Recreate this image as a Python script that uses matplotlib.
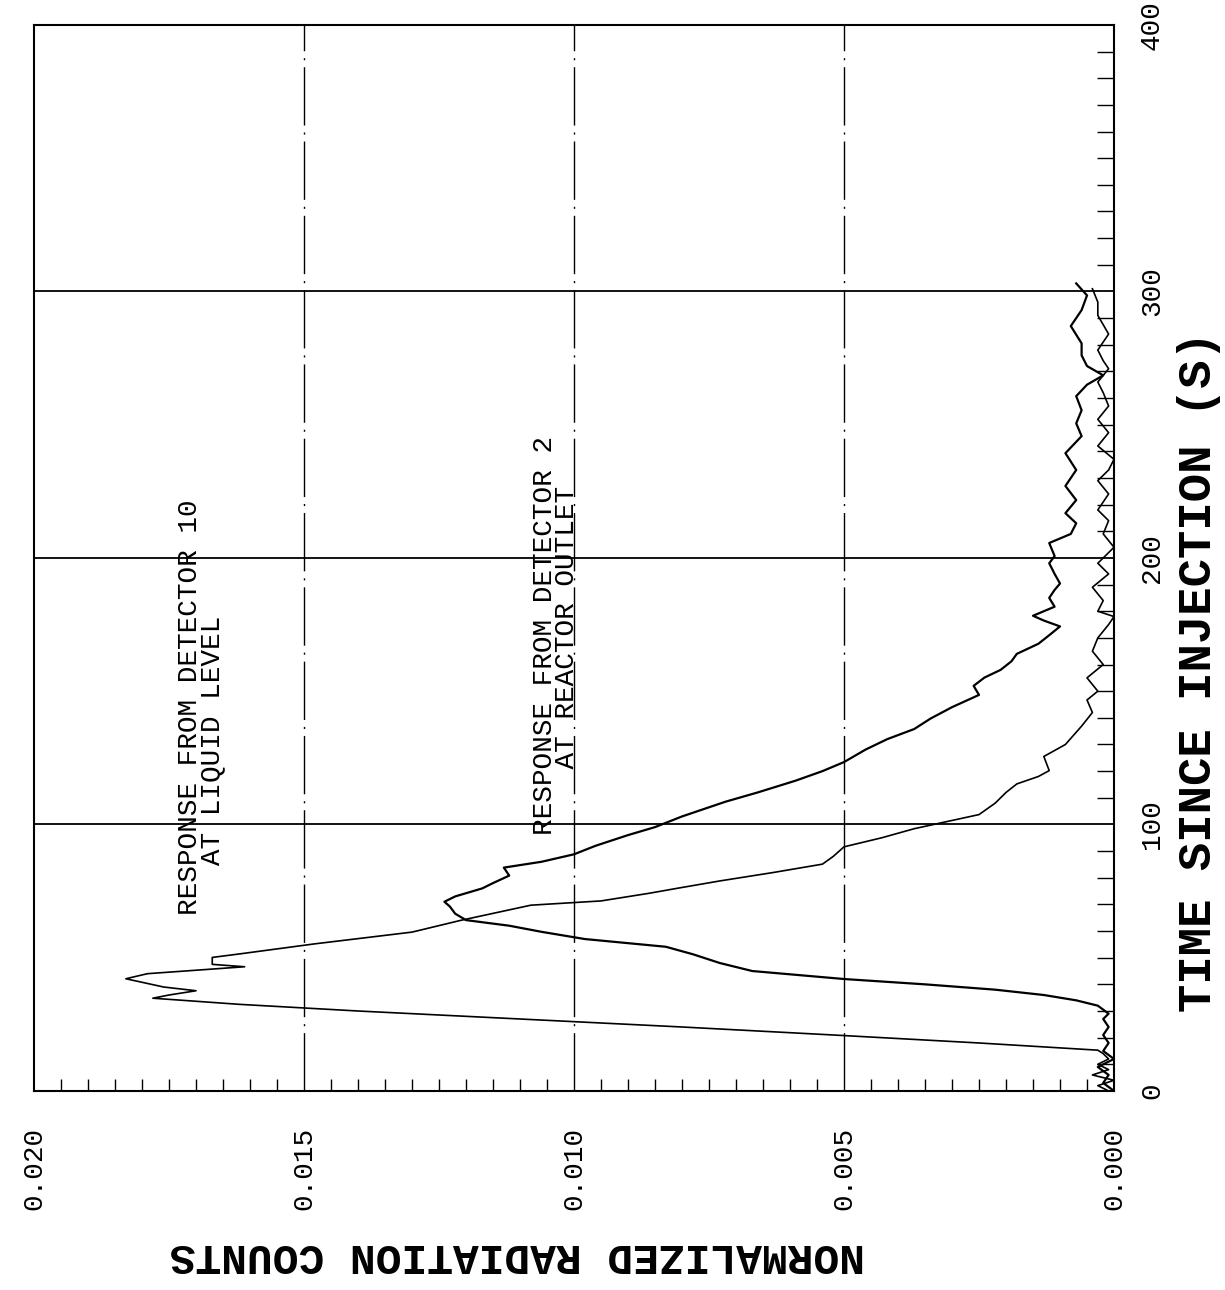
import matplotlib
matplotlib.use('Agg')
import matplotlib.pyplot as plt
from matplotlib.ticker import MultipleLocator, FixedLocator

# ---------------- data ----------------
det10_time = [0, 2, 4, 6, 8, 10, 12, 14, 15.3, 18, 21, 24, 27, 30, 32.5, 34.8,
              36, 37.6, 39, 42.1, 44, 46.6, 47.5, 50.1, 51.4, 55.2, 59.6, 64, 69.7, 71.3, 74.2, 76,
              78.8, 82, 85.1, 88, 91.6, 95, 98.4, 103.7, 108, 112, 115.2, 118, 120.2, 125.5, 130, 136.9,
              142, 146.7, 150, 155, 160, 165, 170, 175, 178, 180, 184, 189, 194, 198, 204, 209,
              214, 218, 224, 229, 233, 237, 242, 247, 252, 257, 262, 266, 271, 274, 278, 284,
              291, 296, 301]
det10_counts = [0.0001, 0.0003, 0.0000, 0.0004, 0.0001, 0.0003, 0.0001, 0.0002,
                0.0003, 0.0025, 0.0052, 0.0080, 0.0110, 0.0140, 0.0162, 0.0178,
                0.0175, 0.0170, 0.0176, 0.0183, 0.0179, 0.0161, 0.0167, 0.0167,
                0.0162, 0.0148, 0.0130, 0.0121, 0.0108, 0.0095, 0.0086, 0.0081,
                0.0073, 0.0063, 0.0054, 0.0052, 0.0050, 0.0043, 0.0037, 0.0025,
                0.0022, 0.0020, 0.0018, 0.0014, 0.0012, 0.0013, 0.0009, 0.0006,
                0.0004, 0.0005, 0.0003, 0.0005, 0.0002, 0.0004, 0.0003, 0.0001,
                0.0000, 0.0003, 0.0002, 0.0004, 0.0001, 0.0003, 0.0000, 0.0002,
                0.0001, 0.0003, 0.0001, 0.0003, 0.0001, 0.0000, 0.0003, 0.0001,
                0.0003, 0.0001, 0.0002, 0.0003, 0.0001, 0.0002, 0.0003, 0.0001,
                0.0003, 0.0003, 0.0004]

det2_time = [0, 3, 6, 9, 12, 15, 18, 21, 24, 27, 29, 32, 34, 36, 38, 40,
             42, 45, 48, 51.3, 54.1, 57, 59.7, 62, 64.1, 66.5, 69.2, 71, 73, 76, 78, 80.8,
             83.8, 86, 88.8, 92, 96, 99, 103, 108.5, 112, 116.4, 120, 123.4, 128.1, 132, 135.8, 139.7,
             144, 148.6, 152, 155.1, 158, 161.2, 164, 167.8, 171, 174.3, 176.5, 178.3, 181.7, 185, 188, 190.4,
             194, 198, 200.7, 205.6, 209, 213, 216.8, 221.7, 227, 233, 239.3, 245.7, 250.5, 255.4, 260.7, 265,
             268.5, 272, 276, 280.5, 287, 293, 298.5, 303]
det2_counts = [0.0000, 0.0002, 0.0001, 0.0003, 0.0000, 0.0002, 0.0001, 0.0002,
               0.0001, 0.0002, 0.0001, 0.0003, 0.0007, 0.0013, 0.0022, 0.0035,
               0.0050, 0.0067, 0.0073, 0.0078, 0.0083, 0.0098, 0.0106, 0.0112,
               0.0120, 0.0122, 0.0123, 0.0124, 0.0122, 0.0117, 0.0115, 0.0112,
               0.0113, 0.0106, 0.0100, 0.0096, 0.0090, 0.0085, 0.0080, 0.0072,
               0.0066, 0.0059, 0.0054, 0.0050, 0.0046, 0.0042, 0.0037, 0.0034,
               0.0030, 0.0025, 0.0026, 0.0024, 0.0021, 0.0019, 0.0018, 0.0014,
               0.0012, 0.0010, 0.0013, 0.0015, 0.0011, 0.0012, 0.0011, 0.0010,
               0.0011, 0.0012, 0.0011, 0.0012, 0.0008, 0.0007, 0.0009, 0.0007,
               0.0009, 0.0007, 0.0009, 0.0006, 0.0007, 0.0006, 0.0007, 0.0005,
               0.0002, 0.0005, 0.0006, 0.0006, 0.0008, 0.0006, 0.0005, 0.0007]

count_ticks = [0.000, 0.005, 0.010, 0.015, 0.020]
count_tick_labels = ['0.000', '0.005', '0.010', '0.015', '0.020']
time_ticks = [0, 100, 200, 300, 400]
time_tick_labels = ['0', '100', '200', '300', '400']
count_grid = [0.005, 0.010, 0.015]
time_grid = [100, 200, 300]

counts_label = 'NORMALIZED RADIATION COUNTS'
time_label = 'TIME SINCE INJECTION (S)'
note10 = 'RESPONSE FROM DETECTOR 10\n   AT LIQUID LEVEL'
note2 = 'RESPONSE FROM DETECTOR 2\n    AT REACTOR OUTLET'

# ---------------- figure ----------------
plt.rcParams['lines.scale_dashes'] = False
fig = plt.figure(figsize=(12.25, 12.9), dpi=100)
ax = fig.add_axes([0.0278, 0.1543, 0.8816, 0.8264])
ax.set_xlim(0.020, 0.0)
ax.set_ylim(0, 400)

for c in count_grid:
    ax.axvline(c, color='black', lw=1.0, dashes=(42, 5, 1.5, 5), zorder=1)
for t in time_grid:
    ax.axhline(t, color='black', lw=1.3, zorder=1)

ax.plot(det10_counts, det10_time, color='black', lw=1.2, zorder=3)
ax.plot(det2_counts, det2_time, color='black', lw=1.6, zorder=3)

for s in ax.spines.values():
    s.set_linewidth(1.5)
    s.set_color('black')

mono = 'Liberation Mono'
ax.xaxis.set_major_locator(FixedLocator(count_ticks))
ax.set_xticklabels(count_tick_labels, rotation=90, fontfamily=mono, fontsize=20)
ax.xaxis.set_minor_locator(MultipleLocator(0.0005))
ax.tick_params(axis='x', which='major', length=0, pad=26)
ax.tick_params(axis='x', which='minor', direction='in', length=9, width=1.0,
               bottom=True, top=False)

ax.yaxis.tick_right()
ax.yaxis.set_major_locator(FixedLocator(time_ticks))
ax.set_yticklabels(time_tick_labels, rotation=90, fontfamily=mono, fontsize=20)
for lab in ax.get_yticklabels():
    lab.set_va('center')
    lab.set_ha('left')
ax.yaxis.set_minor_locator(MultipleLocator(10))
ax.tick_params(axis='y', which='major', length=0, pad=18)
ax.tick_params(axis='y', which='minor', direction='in', length=12, width=1.0,
               right=True, left=False)

fig.text(517 / 1225, 1 - 1255 / 1290, counts_label, rotation=180, ha='center', va='center',
         fontfamily=mono, fontweight='bold', fontsize=31)
fig.text(1199 / 1225, 1 - 672 / 1290, time_label, rotation=90, ha='center', va='center',
         fontfamily=mono, fontweight='bold', fontsize=34)

note_font = dict(fontfamily=mono, fontsize=20, rotation=90,
                 ha='center', va='bottom', color='black', multialignment='left',
                 linespacing=0.8)
ax.text(0.0169, 66, note10, **note_font)
ax.text(0.01034, 96, note2, **note_font)

fig.savefig('out.png', dpi=100, facecolor='white')
